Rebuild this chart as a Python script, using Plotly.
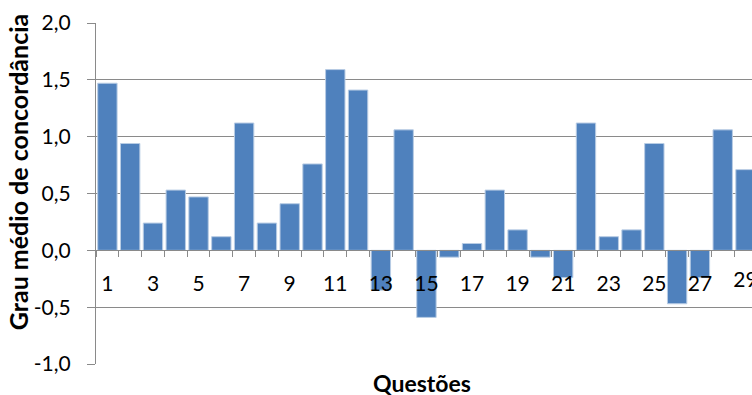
import plotly.graph_objects as go

questoes = list(range(1, 30))
valores = [1.47, 0.94, 0.24, 0.53, 0.47, 0.12, 1.12, 0.24, 0.41, 0.76,
           1.59, 1.41, -0.35, 1.06, -0.59, -0.06, 0.06, 0.53, 0.18, -0.06,
           -0.24, 1.12, 0.12, 0.18, 0.94, -0.47, -0.24, 1.06, 0.71]
x_tick_vals = list(range(1, 30, 2))
y_tick_vals = [-1.0, -0.5, 0.0, 0.5, 1.0, 1.5, 2.0]
y_tick_text = ["-1,0", "-0,5", "0,0", "0,5", "1,0", "1,5", "2,0"]

FONT = "Lato"
GRID = "#8a8a8a"

# plot area in page px: x 95.7..752, y 23.3..364
PL, PR, PT, PB = 95.7, 752.0, 23.3, 364.0
CAT = 22.8
UNIT = (PB - PT) / 3.0           # px per y unit
LABEL_Y = -(281.5 - (PT + 2 * UNIT)) / UNIT   # tick label row, in y units

def px(sx):
    return (sx - PL) / (PR - PL)

def py(sy):
    return (PB - sy) / (PB - PT)

fig = go.Figure(go.Bar(
    x=questoes, y=valores,
    marker=dict(color="#4F81BD", line=dict(color="#B8CCE4", width=1)),
))

# last tick label sits on the right edge and is cut there, as in the original
last_tick = x_tick_vals[-1]
fig.add_trace(go.Scatter(
    x=[last_tick], y=[LABEL_Y], mode="text", text=[str(last_tick)],
    textposition="middle center", cliponaxis=True, hoverinfo="skip",
    textfont=dict(family=FONT, size=21, color="black"),
))

fig.update_layout(
    width=752, height=395,
    margin=dict(l=PL, r=0, t=PT, b=395 - PB),
    plot_bgcolor="white", paper_bgcolor="white",
    separators=",.",
    bargap=0.15,
    showlegend=False,
    font=dict(family=FONT, size=21, color="black"),
    xaxis=dict(
        range=[0.5, 0.5 + (PR - PL) / CAT],
        anchor="free", position=1/3,
        tickvals=x_tick_vals[:-1],
        ticks="", showgrid=False, zeroline=False,
        showline=True, linecolor=GRID, linewidth=1.3,
        ticklabelstandoff=14,
        tickfont=dict(family=FONT, size=21),
        minor=dict(tick0=0.5, dtick=1, ticks="outside", ticklen=6,
                   tickcolor=GRID, tickwidth=1.3, showgrid=False),
    ),
    yaxis=dict(
        range=[-1, 2],
        tickvals=y_tick_vals, ticktext=y_tick_text,
        showgrid=True, gridcolor=GRID, gridwidth=1.3,
        zeroline=False,
        showline=True, linecolor=GRID, linewidth=1.3,
        ticks="outside", ticklen=8, tickcolor=GRID, tickwidth=1.3,
        ticklabelstandoff=12,
        tickfont=dict(family=FONT, size=21),
    ),
    annotations=[
        dict(text="<b>Questões</b>", xref="paper", yref="paper",
             x=px(422), y=py(383), xanchor="center", yanchor="middle",
             showarrow=False, font=dict(family=FONT, size=23)),
        dict(text="<b>Grau médio de concordância</b>", xref="paper", yref="paper",
             x=px(17), y=py(172), xanchor="center", yanchor="middle",
             textangle=-90, showarrow=False, font=dict(family=FONT, size=25)),
    ],
)

post = (
    "document.documentElement.style.overflow='hidden';"
    "document.body.style.margin='0';"
    "document.body.style.overflow='hidden';"
)

fig.write_html(
    "out.html",
    config={"displayModeBar": False},
    post_script=post,
)
